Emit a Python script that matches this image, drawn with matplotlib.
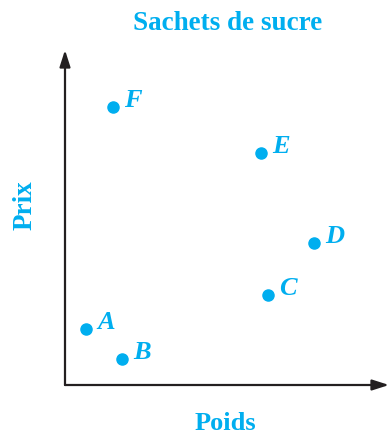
import matplotlib.pyplot as plt

# valeurs (unites arbitraires)
noms = ['A', 'B', 'C', 'D', 'E', 'F']
poids = [21, 57, 203, 249, 196, 48]
prix = [56, 26, 90, 142, 232, 278]

bleu = '#00AEEF'
noir = '#231F20'

plt.rcParams['font.family'] = ['Liberation Serif', 'DejaVu Serif']

fig = plt.figure(figsize=(3.91, 4.38), dpi=100)
W, H = 391, 438
ax = fig.add_axes([65 / W, (H - 385) / H, (389 - 65) / W, (385 - 50) / H])
ax.set_xlim(0, 324)
ax.set_ylim(0, 335)
ax.axis('off')

# axes avec fleches
fleche = dict(arrowstyle='-|>,head_length=1.0,head_width=0.32', color=noir, lw=1.6,
              shrinkA=0, shrinkB=0)
ax.annotate('', xy=(1, 0), xytext=(0, 0), xycoords='axes fraction',
            arrowprops=fleche, annotation_clip=False)
ax.annotate('', xy=(0, 1), xytext=(0, 0), xycoords='axes fraction',
            arrowprops=fleche, annotation_clip=False)

ax.plot(poids, prix, 'o', color=bleu, markersize=8, clip_on=False)
for n, x, y in zip(noms, poids, prix):
    ax.annotate(n, (x, y), xytext=(8, 0), textcoords='offset points',
                ha='left', va='baseline', color=bleu, fontsize=19,
                fontweight='bold', fontstyle='italic')

fig.text(228 / W, 1 - 23 / H, 'Sachets de sucre', ha='center', va='center',
         color=bleu, fontsize=19.5, fontweight='bold')
fig.text(225 / W, 1 - 424 / H, 'Poids', ha='center', va='center',
         color=bleu, fontsize=19, fontweight='bold')
fig.text(25 / W, 1 - 205 / H, 'Prix', ha='center', va='center', rotation=90,
         color=bleu, fontsize=19.5, fontweight='bold')

fig.savefig('out.png', dpi=100)
